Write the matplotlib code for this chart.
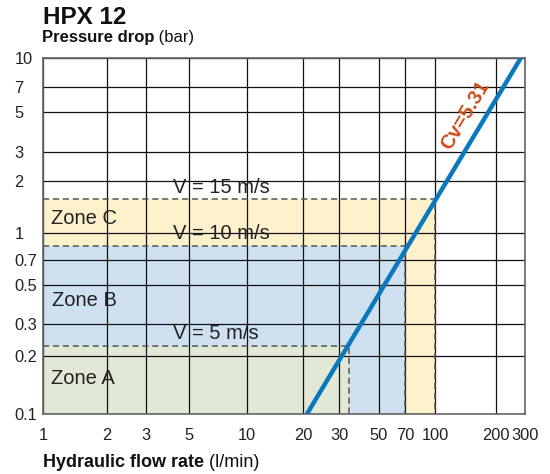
import numpy as np
import matplotlib
matplotlib.use("Agg")
import matplotlib.pyplot as plt
from matplotlib.ticker import FixedLocator, FixedFormatter, NullLocator

plt.rcParams['font.family'] = ['Liberation Sans', 'DejaVu Sans']

# ---- data ----
flow_ticks = [1, 2, 3, 5, 10, 20, 30, 50, 70, 100, 200, 300]
flow_tick_labels = ['1', '2', '3', '5', '10', '20', '30', '50', '70', '100', '200', '300']
dp_ticks = [0.1, 0.2, 0.3, 0.5, 0.7, 1, 2, 3, 5, 7, 10]
dp_tick_labels = ['0.1', '0.2', '0.3', '0.5', '0.7', '1', '2', '3', '5', '7', '10']

cv_flow = [20.9, 283]
cv_dp = [0.1, 10]
cv_label = 'Cv=5.31'

zone_names = ['Zone C', 'Zone B', 'Zone A']
zone_flow_max = [100, 70, 34.3]
zone_dp_max = [1.57, 0.846, 0.228]

velocity_labels = ['V = 15 m/s', 'V = 10 m/s', 'V = 5 m/s']

# ---- layout: the chart's hand-made log grid (pixel position of each grid line) ----
x_grid_px = [43, 107, 146, 189, 247, 303, 339, 379, 405, 435, 496, 525]
y_grid_px = [414, 356, 324, 285, 260, 233, 181, 152, 112, 87, 58]


def make_scale(ticks, px, invert=False):
    lt = np.log10(np.asarray(ticks, float))
    p = np.asarray(px, float)
    if invert:
        p = -p
    s0 = (p[1] - p[0]) / (lt[1] - lt[0])
    s1 = (p[-1] - p[-2]) / (lt[-1] - lt[-2])

    def fwd(v):
        v = np.asarray(v, float)
        l = np.log10(np.clip(v, 1e-12, None))
        out = np.interp(l, lt, p)
        out = np.where(l < lt[0], p[0] + (l - lt[0]) * s0, out)
        out = np.where(l > lt[-1], p[-1] + (l - lt[-1]) * s1, out)
        return out

    def inv(q):
        q = np.asarray(q, float)
        l = np.interp(q, p, lt)
        l = np.where(q < p[0], lt[0] + (q - p[0]) / s0, l)
        l = np.where(q > p[-1], lt[-1] + (q - p[-1]) / s1, l)
        return 10 ** l

    return fwd, inv


W, H = 550, 474
fig = plt.figure(figsize=(W / 100, H / 100), dpi=100)
ax = fig.add_axes([43 / W, (H - 414) / H, (525 - 43) / W, (414 - 58) / H])

ax.set_xscale('function', functions=make_scale(flow_ticks, x_grid_px))
ax.set_yscale('function', functions=make_scale(dp_ticks, y_grid_px, invert=True))
ax.set_xlim(1, 300)
ax.set_ylim(0.1, 10)

ax.xaxis.set_major_locator(FixedLocator(flow_ticks))
ax.xaxis.set_major_formatter(FixedFormatter(flow_tick_labels))
ax.xaxis.set_minor_locator(NullLocator())
ax.yaxis.set_major_locator(FixedLocator(dp_ticks))
ax.yaxis.set_major_formatter(FixedFormatter(dp_tick_labels))
ax.yaxis.set_minor_locator(NullLocator())

ax.set_axisbelow('line')
ax.grid(True, color='#111111', lw=0.9)
ax.tick_params(length=0, labelsize=11.8, labelcolor='#222222')
ax.tick_params(axis='x', pad=10)
ax.tick_params(axis='y', pad=20.5)
for lab in ax.get_yticklabels():
    lab.set_horizontalalignment('left')

for s in ax.spines.values():
    s.set_color('#666666')
    s.set_linewidth(1.2)

zone_colors = ['#fdf1cc', '#cfe0f1', '#e1e8d5']
for name, fmax, dmax, col in zip(zone_names, zone_flow_max, zone_dp_max, zone_colors):
    ax.fill_between([1, fmax], 0.1, dmax, color=col, lw=0, zorder=1)
for fmax, dmax in zip(zone_flow_max, zone_dp_max):
    ax.plot([1, fmax, fmax], [dmax, dmax, 0.1], ls=(0, (4, 2.5)), color='#555555',
            lw=1.1, zorder=2)

ax.plot(cv_flow, cv_dp, color='#0b78be', lw=3.2, zorder=3, solid_capstyle='butt')

# zone labels and velocity labels (axes-fraction placement)
zone_pos = [(0.016, 0.55), (0.019, 0.32), (0.016, 0.099)]
for name, (px, py) in zip(zone_names, zone_pos):
    ax.text(px, py, name, transform=ax.transAxes, fontsize=14.5, color='#222222',
            ha='left', va='center', zorder=4)
vel_pos = [(0.27, 0.636), (0.27, 0.506), (0.27, 0.225)]
for lab, (px, py) in zip(velocity_labels, vel_pos):
    ax.text(px, py, lab, transform=ax.transAxes, fontsize=14.5, color='#222222',
            ha='left', va='center', zorder=4)

ax.text(0.876, 0.838, cv_label, transform=ax.transAxes, fontsize=14.5,
        fontweight='bold', color='#cc4e1c', rotation=59, ha='center',
        va='center', zorder=4)

# titles
renderer = fig.canvas.get_renderer()


def two_part(x, y, bold, normal, size):
    t = fig.text(x, y, bold, fontsize=size, fontweight='bold', color='#111111',
                 ha='left', va='baseline')
    bb = t.get_window_extent(renderer)
    fig.text(bb.x1 / W, y, ' ' + normal, fontsize=size, color='#111111',
             ha='left', va='baseline')


fig.text(43 / W, (H - 24) / H, 'HPX 12', fontsize=17.5, fontweight='bold',
         color='#111111', ha='left', va='baseline')
two_part(42 / W, (H - 42) / H, 'Pressure drop', '(bar)', 12)
two_part(43 / W, (H - 467) / H, 'Hydraulic flow rate', '(l/min)', 13)

fig.savefig('out.png', dpi=100)
